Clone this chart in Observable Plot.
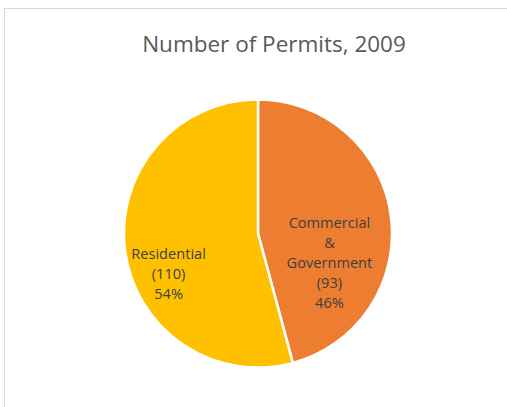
<!DOCTYPE html>
<html>
<head>
<meta charset="utf-8">
<script src="https://cdn.jsdelivr.net/npm/d3@7"></script>
<script src="https://cdn.jsdelivr.net/npm/@observablehq/plot@0.6"></script>
<style>
  html, body { margin: 0; padding: 0; background: #fff; width: 507px; height: 407px; overflow: hidden; }
  #frame { position: absolute; left: 4px; top: 8px; width: 600px; height: 500px;
           border-left: 1px solid #d9d9d9; border-top: 1px solid #d9d9d9; }
  #title { position: absolute; left: 4px; width: 540px; top: 29px; text-align: center;
           font-family: "Open Sans", sans-serif; font-size: 22.5px; line-height: 30px; color: #595959; }
  #chart { position: absolute; left: 0; top: 70px; }
</style>
</head>
<body>
<div id="frame"></div>
<div id="title">Number of Permits, 2009</div>
<div id="chart"></div>
<script>
// ---- data ----
const categories = ["Commercial & Government", "Residential"];
const values = [93, 110];
const colors = ["#ED7D31", "#FFC000"];
const title = "Number of Permits, 2009";

// ---- label placement (style, not data): radial fraction + downward shift ----
const labelRadius = [0.534, 0.677];
const labelShift = [0.277, 0.202];

const total = d3.sum(values);
const pie = d3.pie().sort(null).value(d => d.value);
const rows = categories.map((c, i) => ({category: c, value: values[i], color: colors[i], i}));
const arcs = pie(rows);
const labels = arcs.map(a => {
  const mid = (a.startAngle + a.endAngle) / 2;
  const i = a.data.i;
  return {
    x: Math.sin(mid) * labelRadius[i],
    y: -Math.cos(mid) * labelRadius[i] + labelShift[i],
    text: `${a.data.category.replace(" & ", "\n&\n")}\n(${a.data.value})\n${Math.round(a.data.value / total * 100)}%`
  };
});

function pieMark(index, scales, values, dimensions, context) {
  const cx = scales.x(0), cy = scales.y(0);
  const r = scales.x(1) - cx;
  const arc = d3.arc().innerRadius(0).outerRadius(r);
  const g = d3.create("svg:g").attr("transform", `translate(${cx},${cy})`);
  g.selectAll("path").data(arcs).join("path")
    .attr("d", arc)
    .attr("fill", d => d.data.color)
    .attr("stroke", "#fff")
    .attr("stroke-width", 2.5)
    .attr("stroke-linejoin", "round");
  return g.node();
}

const plot = Plot.plot({
  width: 507,
  height: 337,
  margin: 0,
  style: {background: "transparent", overflow: "visible"},
  x: {type: "linear", domain: [-1, 1], range: [124, 392], axis: null},
  y: {type: "linear", domain: [-1, 1], range: [29.5, 297.5], axis: null},
  marks: [
    pieMark,
    Plot.text(labels, {
      x: "x", y: "y", text: "text",
      fill: "#404040",
      fontSize: 14.6,
      lineHeight: 1.37,
      fontFamily: "Open Sans",
      textAnchor: "middle"
    })
  ]
});
document.getElementById("chart").appendChild(plot);
</script>
</body>
</html>
